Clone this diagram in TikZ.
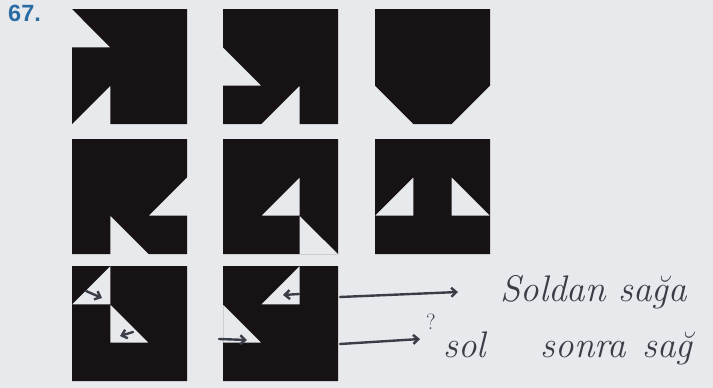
\documentclass[tikz,border=0pt]{standalone}
\usepackage{fontspec}
\newfontfamily\numfont{Liberation Sans}
\usetikzlibrary{arrows.meta}
\definecolor{paper}{HTML}{E7E9ED}
\definecolor{ink}{HTML}{171314}
\definecolor{pen}{HTML}{3A3D46}
\definecolor{qblue}{HTML}{2B6BA3}

\begin{document}
\begin{tikzpicture}[x=1pt,y=-1pt,
        tile/.style={shift={(#1)},x=115pt,y=115pt},
        blk/.style={fill=ink,even odd rule},
        penline/.style={draw=pen,line width=2.4pt,line cap=round,
                        -{Straight Barb[length=5pt,width=9pt]}},
        hand/.style={text=pen,font=\fontsize{37}{40}\selectfont\itshape,
                     inner sep=0pt,anchor=base west}]
        \fill[paper] (0,0) rectangle (713,388);
        \node[anchor=north west,inner sep=0pt,text=qblue,
              font=\numfont\bfseries\fontsize{23.5}{25}\selectfont] (num) at (8,5) {67.};
        % first row
        \begin{scope}[tile={72,124}]
          \fill[blk] (0,1)--(1/3,2/3)--(0,2/3)--(0,0)--(1/3,1/3)--(1/3,0)--(1,0)--(1,1)--cycle;
        \end{scope}
        \begin{scope}[tile={223,124}]
          \fill[blk] (0,1)--(1,1)--(1,0)--(2/3,0)--(2/3,1/3)--(1/3,0)--(0,0)--(0,1/3)
            --(1/3,1/3)--(0,2/3)--cycle;
        \end{scope}
        \begin{scope}[tile={375,124}]
          \fill[blk] (0,1)--(1,1)--(1,1/3)--(2/3,0)--(1/3,0)--(0,1/3)--cycle;
        \end{scope}
        % second row
        \begin{scope}[tile={72,254}]
          \fill[blk] (0,1)--(1,1)--(1,2/3)--(2/3,1/3)--(1,1/3)--(1,0)--(2/3,0)--(1/3,1/3)
            --(1/3,0)--(0,0)--cycle;
        \end{scope}
        \begin{scope}[tile={223,254}]
          \fill[blk] (0,0) rectangle (1,1) (1/3,1/3)--(2/3,2/3)--(2/3,1/3)--cycle
            (2/3,1/3)--(2/3,0)--(1,0)--cycle;
        \end{scope}
        \begin{scope}[tile={375,254}]
          \fill[blk] (0,0) rectangle (1,1) (0,1/3)--(1/3,1/3)--(1/3,2/3)--cycle
            (1,1/3)--(2/3,1/3)--(2/3,2/3)--cycle;
        \end{scope}
        % third row
        \begin{scope}[tile={72,381}]
          \fill[blk] (0,0) rectangle (1,1) (0,2/3)--(1/3,1)--(1/3,2/3)--cycle
            (1/3,2/3)--(1/3,1/3)--(2/3,1/3)--cycle;
        \end{scope}
        \begin{scope}[tile={223,381}]
          \fill[blk] (0,0) rectangle (1,1) (1/3,2/3)--(2/3,1)--(2/3,2/3)--cycle
            (0,2/3)--(1/3,1/3)--(0,1/3)--cycle;
        \end{scope}
        % pen marks
        \coordinate (m1a) at (86,291);  \coordinate (m1b) at (102,298);
        \coordinate (m2a) at (133,332); \coordinate (m2b) at (120,336);
        \coordinate (m3a) at (299,294); \coordinate (m3b) at (283,295);
        \coordinate (m4a) at (219,339); \coordinate (m4b) at (247,340);
        \draw[penline] (m1a)--(m1b);
        \draw[penline] (m2a)--(m2b);
        \draw[penline] (m3a)--(m3b);
        \draw[penline] (m4a)--(m4b);
        \node[hand] (upper) at (500,301) {Soldan sağa};
        \node[hand] (lower) at (443,357) {sol\hspace{55pt}sonra\hspace{16pt}sağ};
        \node[text=pen,font=\fontsize{22}{24}\selectfont,inner sep=0pt] (qm) at (431,322) {?};
        \coordinate (r1) at (340,297); \coordinate (r2) at (340,344);
        \coordinate (e1) at (458,292); \coordinate (e2) at (420,339);
        \draw[penline] (r1)--(e1);
        \draw[penline] (r2)--(e2);
      \end{tikzpicture}
\end{document}
